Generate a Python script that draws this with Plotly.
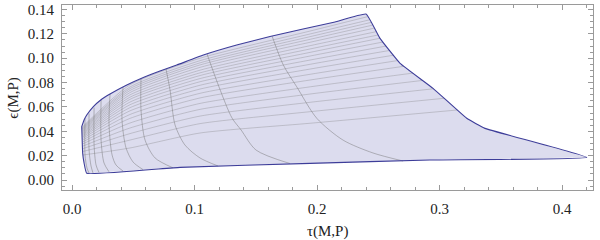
import plotly.graph_objects as go

# region boundary (tau, eps)
top_tau = [0.0079, 0.0098, 0.0120, 0.0174, 0.0229, 0.0310, 0.0447, 0.0582, 0.0718,
           0.0855, 0.1072, 0.1344, 0.1616, 0.1886, 0.2147, 0.2400]
top_eps = [0.0438, 0.0493, 0.0534, 0.0603, 0.0653, 0.0706, 0.0780, 0.0842, 0.0895,
           0.0944, 0.1026, 0.1108, 0.1178, 0.1240, 0.1297, 0.1363]
right_tau = [0.2514, 0.2678, 0.2947, 0.3222, 0.3371, 0.4202]
right_eps = [0.1163, 0.0958, 0.0753, 0.0507, 0.0424, 0.0186]
bottom_tau = [0.2922, 0.1943, 0.0882, 0.0120]
bottom_eps = [0.0164, 0.0137, 0.0104, 0.0055]
left_tau = [0.0098, 0.0087, 0.0079]
left_eps = [0.0140, 0.0219, 0.0438]

# mesh lines of the first family (left edge -> right edge)
h_mid_tau = [0.0473, 0.1045, 0.1943]
h_left_tau = [0.0079, 0.0079, 0.0079, 0.0080, 0.0080, 0.0080, 0.0081, 0.0081, 0.0081, 0.0082,
              0.0082, 0.0082, 0.0083, 0.0084, 0.0084, 0.0085, 0.0086, 0.0087, 0.0088]
h_left_eps = [0.0431, 0.0424, 0.0417, 0.0411, 0.0403, 0.0395, 0.0387, 0.0378, 0.0369, 0.0360,
              0.0350, 0.0338, 0.0325, 0.0311, 0.0295, 0.0277, 0.0257, 0.0234, 0.0205]
h_b_eps = [0.0782, 0.0764, 0.0750, 0.0735, 0.0718, 0.0699, 0.0680, 0.0662, 0.0640, 0.0618,
           0.0594, 0.0568, 0.0538, 0.0506, 0.0468, 0.0427, 0.0381, 0.0328, 0.0263]
h_c_eps = [0.1000, 0.0980, 0.0962, 0.0945, 0.0925, 0.0902, 0.0880, 0.0858, 0.0833, 0.0807,
           0.0778, 0.0747, 0.0712, 0.0674, 0.0629, 0.0580, 0.0525, 0.0463, 0.0386]
h_d_eps = [0.1223, 0.1199, 0.1177, 0.1155, 0.1131, 0.1103, 0.1076, 0.1048, 0.1018, 0.0985,
           0.0950, 0.0911, 0.0868, 0.0821, 0.0765, 0.0706, 0.0638, 0.0561, 0.0466]
h_right_tau = [0.2412, 0.2428, 0.2441, 0.2454, 0.2468, 0.2484, 0.2500, 0.2514, 0.2539, 0.2565,
               0.2594, 0.2626, 0.2661, 0.2710, 0.2784, 0.2864, 0.2951, 0.3037, 0.3147]
h_right_eps = [0.1341, 0.1315, 0.1294, 0.1272, 0.1247, 0.1218, 0.1191, 0.1164, 0.1133, 0.1100,
               0.1064, 0.1025, 0.0981, 0.0934, 0.0878, 0.0818, 0.0749, 0.0671, 0.0575]

# mesh lines of the second family (top edge -> bottom edge)
v_tau = [
    [0.0106, 0.0106, 0.0122, 0.0139],
    [0.0139, 0.0139, 0.0155, 0.0171],
    [0.0180, 0.0180, 0.0196, 0.0220],
    [0.0237, 0.0237, 0.0261, 0.0302],
    [0.0310, 0.0302, 0.0327, 0.0359, 0.0416],
    [0.0416, 0.0408, 0.0441, 0.0498, 0.0580],
    [0.0563, 0.0563, 0.0596, 0.0678, 0.0824],
    [0.0767, 0.0800, 0.0841, 0.0922, 0.1045, 0.1192],
    [0.1102, 0.1200, 0.1306, 0.1380, 0.1502, 0.1780],
    [0.1633, 0.1725, 0.1834, 0.1998, 0.2212, 0.2457, 0.2702],
]
v_eps = [
    [0.0509, 0.0205, 0.0099, 0.0057],
    [0.0546, 0.0246, 0.0115, 0.0058],
    [0.0595, 0.0287, 0.0123, 0.0062],
    [0.0657, 0.0328, 0.0140, 0.0067],
    [0.0706, 0.0452, 0.0205, 0.0123, 0.0074],
    [0.0764, 0.0493, 0.0263, 0.0148, 0.0085],
    [0.0833, 0.0575, 0.0328, 0.0181, 0.0100],
    [0.0911, 0.0739, 0.0452, 0.0287, 0.0181, 0.0115],
    [0.1035, 0.0764, 0.0509, 0.0411, 0.0246, 0.0135],
    [0.1182, 0.0944, 0.0766, 0.0507, 0.0328, 0.0222, 0.0156],
]

edge = "#3d3d99"
fillc = "#dcdcee"
mesh_h = "rgba(120,120,120,0.32)"
mesh_v = "rgba(110,110,110,0.45)"

bx = top_tau + right_tau + bottom_tau + left_tau
by = top_eps + right_eps + bottom_eps + left_eps

hx, hy = [], []
for i in range(len(h_left_tau)):
    hx += [h_left_tau[i]] + h_mid_tau + [h_right_tau[i], None]
    hy += [h_left_eps[i], h_b_eps[i], h_c_eps[i], h_d_eps[i], h_right_eps[i], None]

vx, vy = [], []
for xs, ys in zip(v_tau, v_eps):
    vx += xs + [None]
    vy += ys + [None]

fig = go.Figure()
fig.add_trace(go.Scatter(x=bx, y=by, mode="lines", fill="toself", fillcolor=fillc,
                         line=dict(width=0), hoverinfo="skip"))
fig.add_trace(go.Scatter(x=hx, y=hy, mode="lines", line=dict(color=mesh_h, width=1, shape="spline", smoothing=0.6),
                         hoverinfo="skip"))
fig.add_trace(go.Scatter(x=vx, y=vy, mode="lines", line=dict(color=mesh_v, width=1, shape="spline", smoothing=0.8),
                         hoverinfo="skip"))
fig.add_trace(go.Scatter(x=bx + [bx[0]], y=by + [by[0]], mode="lines",
                         line=dict(color=edge, width=1.1, shape="spline", smoothing=0.3), hoverinfo="skip"))

axis_common = dict(
    showgrid=False, zeroline=False, showline=True, linecolor="#9a9a9a", linewidth=1,
    mirror="allticks", ticks="inside", ticklen=5, tickcolor="#9a9a9a", tickwidth=1,
    tickfont=dict(family="Liberation Serif", size=15, color="#222"), automargin=False,
)
fig.update_layout(
    width=600, height=240, margin=dict(l=62, r=7, t=5, b=50),
    paper_bgcolor="white", plot_bgcolor="white", showlegend=False,
    font=dict(family="Liberation Serif", size=15, color="#222"),
    annotations=[
        dict(text="τ(M,P)", xref="paper", yref="paper", x=0.5, y=-0.225, yanchor="middle",
             showarrow=False, font=dict(family="Liberation Serif", size=15, color="#222")),
        dict(text="ϵ(M,P)", xref="paper", yref="paper", x=-0.092, y=0.5, xanchor="center",
             textangle=-90, showarrow=False, font=dict(family="Liberation Serif", size=15, color="#222")),
    ],
)
fig.update_xaxes(axis_common, range=[-0.0082, 0.4253], tickvals=[0, 0.1, 0.2, 0.3, 0.4],
                 ticktext=["0.0", "0.1", "0.2", "0.3", "0.4"], ticklabelstandoff=5,
                 minor=dict(dtick=0.02, tick0=0, ticklen=3, ticks="inside", tickcolor="#9a9a9a"))
fig.update_yaxes(axis_common, range=[-0.0082, 0.1437], dtick=0.02, tickformat=".2f",
                 ticklabelstandoff=4,
                 minor=dict(dtick=0.005, tick0=0, ticklen=3, ticks="inside", tickcolor="#9a9a9a"))

# page body has a default 8px margin; drop it so the figure sits at the window corner
fig.write_html("out.html", config={"displayModeBar": False},
               post_script="document.body.style.margin='0';")
